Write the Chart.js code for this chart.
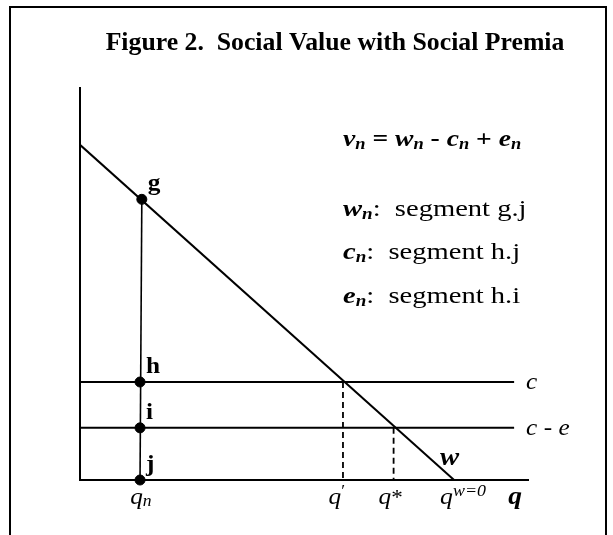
<!DOCTYPE html>
<html>
<head>
<meta charset="utf-8">
<script src="https://cdn.jsdelivr.net/npm/chart.js@4.4.1/dist/chart.umd.min.js"></script>
<style>
  html, body { margin: 0; padding: 0; background: #fff; }
  #wrap { position: relative; width: 613px; height: 535px; }
  #frame { position: absolute; left: 9px; top: 6px; width: 594px; height: 540px;
           border: 2px solid #000; border-bottom: none; }
  #grafico { position: absolute; left: 0; top: 0; }
</style>
</head>
<body>
<div id="wrap">
  <div id="frame"></div>
  <canvas id="grafico" width="613" height="535"></canvas>
</div>
<script>
// ---- DADOS ----
const qMax = 10;             // end of the q axis
const vMax = 10;             // top of the value axis
const wQ = [0, 8.35];        // demand line w: q values
const wV = [8.55, 0];        //               value at each q
const costLevels = [2.5, 1.33];      // c, c - e
const costLabels = ["c", "c - e"];
const costEndQ = 9.69;
const pointLabels = ["g", "h", "i", "j"];
const pointQ = [1.38, 1.34, 1.34, 1.34];
const pointV = [7.16, 2.5, 1.33, 0];
const dropQ = [5.87, 7.0];   // q', q*
const dropV = [2.5, 1.33];
const qn = 1.36;
const qZero = 8.35;          // q where w = 0

const serif = '"Liberation Serif", "Times New Roman", serif';
const f = (style, size) => `${style} ${size}px ${serif}`;

// draws a run of text pieces [text, font, dy], stretched by sx
function drawRuns(ctx, x, y, runs, align, sx) {
  sx = sx || 1;
  let total = 0;
  runs.forEach(r => { ctx.font = r[1]; total += ctx.measureText(r[0]).width; });
  total *= sx;
  const x0 = align === "center" ? x - total / 2 : align === "right" ? x - total : x;
  ctx.save();
  ctx.translate(x0, y);
  ctx.scale(sx, 1);
  ctx.textAlign = "left";
  let cx = 0;
  runs.forEach(r => {
    ctx.font = r[1];
    ctx.fillText(r[0], cx, r[2] || 0);
    cx += ctx.measureText(r[0]).width;
  });
  ctx.restore();
}

const textos = {
  id: "textos",
  afterDraw(chart) {
    const ctx = chart.ctx;
    const xs = chart.scales.x, ys = chart.scales.y;
    const px = v => xs.getPixelForValue(v), py = v => ys.getPixelForValue(v);
    ctx.save();
    ctx.fillStyle = "#000";
    ctx.textBaseline = "alphabetic";

    // titulo
    drawRuns(ctx, 335, 50, [["Figure 2.  Social Value with Social Premia", f("bold", 25)]], "center", 1.03);

    // point names
    pointLabels.forEach((lab, k) => {
      drawRuns(ctx, px(pointQ[k]) + 6, py(pointV[k]) - 9, [[lab, f("bold", 23)]], "left", 1.1);
    });

    // cost line labels
    costLabels.forEach((lab, k) => {
      drawRuns(ctx, px(costEndQ) + 12, py(costLevels[k]) + 7, [[lab, f("italic", 23)]], "left", 1.1);
    });

    // w label near the end of the demand line
    drawRuns(ctx, px(qZero) - 14, py(0) - 15, [["w", f("bold italic", 25)]], "left", 1.15);

    // q-axis labels
    const base = py(0) + 24;
    const it = f("italic", 23), sm = f("italic", 16);
    drawRuns(ctx, px(qn), base, [["q", it], ["n", sm, 2]], "center", 1.1);
    drawRuns(ctx, px(dropQ[0]) + 2, base, [["q", it], ["\u2032", f("", 16), -8]], "right", 1.1);
    drawRuns(ctx, px(dropQ[1]) - 3, base, [["q", it], ["*", f("", 21)]], "center", 1.1);
    drawRuns(ctx, px(qZero) - 14, base, [["q", it], ["w=0", sm, -8]], "left", 1.12);
    drawRuns(ctx, px(qMax) - 6, base, [["q", f("bold italic", 25)]], "right", 1.1);

    // equation and segment legend
    const bi = f("bold italic", 24), bsub = f("bold italic", 16), rg = f("", 24);
    drawRuns(ctx, 343, 146, [
      ["v", bi], ["n", bsub, 3], [" = ", f("bold", 24)],
      ["w", bi], ["n", bsub, 3], [" - ", f("bold", 24)],
      ["c", bi], ["n", bsub, 3], [" + ", f("bold", 24)],
      ["e", bi], ["n", bsub, 3]
    ], "left", 1.15);
    const defs = [["w", "segment g.j", 216], ["c", "segment h.j", 259], ["e", "segment h.i", 303]];
    defs.forEach(d => {
      drawRuns(ctx, 343, d[2], [[d[0], bi], ["n", bsub, 3], [":  " + d[1], rg]], "left", 1.19);
    });
    ctx.restore();
  }
};

const line = (data, extra) => Object.assign({
  data, showLine: true, borderColor: "#000", borderWidth: 2,
  pointRadius: 0, fill: false, tension: 0
}, extra || {});

const datasets = [
  line(wQ.map((q, k) => ({ x: q, y: wV[k] }))),
  ...costLevels.map(c => line([{ x: 0, y: c }, { x: costEndQ, y: c }])),
  line([{ x: pointQ[0], y: pointV[0] }, { x: pointQ[3], y: pointV[3] }], { borderWidth: 1.6 }),
  ...dropQ.map((q, k) => line([{ x: q, y: dropV[k] }, { x: q, y: 0 }],
    { borderWidth: 1.8, borderDash: [6, 4] })),
  {
    data: pointQ.map((q, k) => ({ x: q, y: pointV[k] })),
    showLine: false, pointRadius: 5, pointBackgroundColor: "#000",
    pointBorderColor: "#000", clip: false
  }
];

new Chart(document.getElementById("grafico").getContext("2d"), {
  type: "scatter",
  data: { datasets },
  options: {
    responsive: false,
    animation: false,
    events: [],
    layout: { padding: { left: 80, top: 88, right: 85, bottom: 55 } },
    plugins: { legend: { display: false }, tooltip: { enabled: false } },
    scales: {
      x: {
        type: "linear", min: 0, max: qMax,
        grid: { display: false, drawTicks: false },
        ticks: { display: false },
        border: { display: true, color: "#000", width: 2 }
      },
      y: {
        type: "linear", min: 0, max: vMax,
        grid: { display: false, drawTicks: false },
        ticks: { display: false },
        border: { display: true, color: "#000", width: 2 }
      }
    }
  },
  plugins: [textos]
});
</script>
</body>
</html>
